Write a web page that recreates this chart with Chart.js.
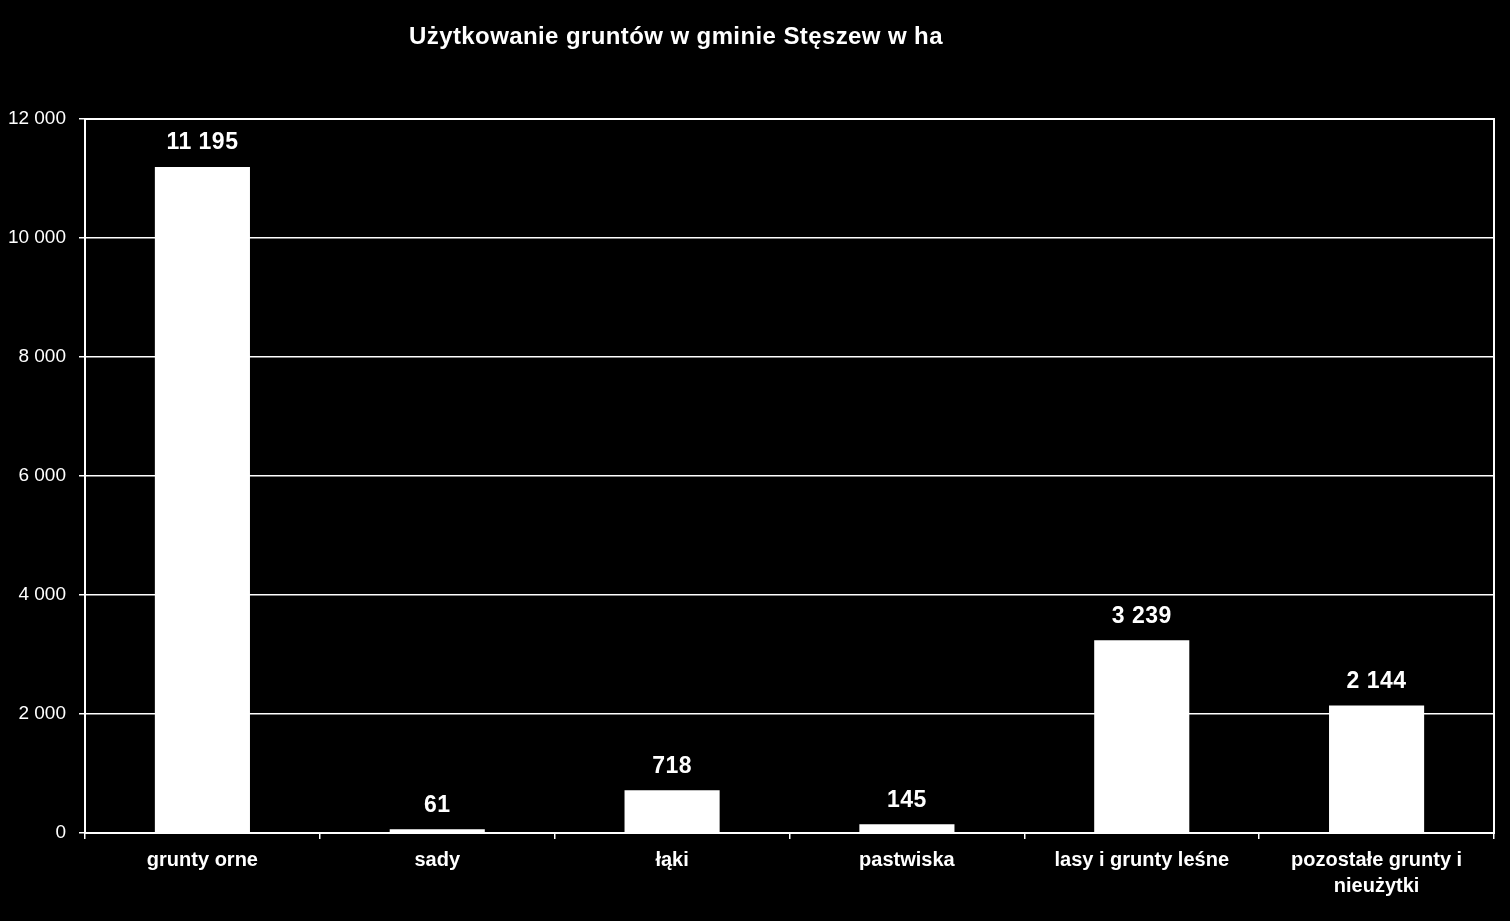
<!DOCTYPE html>
<html>
<head>
<meta charset="utf-8">
<script src="https://cdn.jsdelivr.net/npm/chart.js@4"></script>
<style>
  html, body { margin: 0; padding: 0; background: #000; }
  #wrap { width: 1510px; height: 921px; }
</style>
</head>
<body>
<div id="wrap"><canvas id="landUse"></canvas></div>
<script>
let categories = ['grunty orne', 'sady', 'łąki', 'pastwiska', 'lasy i grunty leśne', ['pozostałe grunty i', 'nieużytki']];
let areaHa = [11195, 61, 718, 145, 3239, 2144];
let yTicks = [0, 2000, 4000, 6000, 8000, 10000, 12000];
let chartTitle = 'Użytkowanie gruntów w gminie Stęszew w ha';

let fontFamily = '"Liberation Sans", Arial, sans-serif';

function spaced(n) {
    return String(n).replace(/\B(?=(\d{3})+(?!\d))/g, ' ');
}

// title sits left of centre in the original, so draw it by hand
let titlePlugin = {
    id: 'titleText',
    afterDraw(chart) {
        let c = chart.ctx;
        c.save();
        c.fillStyle = '#fff';
        c.font = 'bold 24px ' + fontFamily;
        c.letterSpacing = '0.4px';
        c.textAlign = 'center';
        c.textBaseline = 'middle';
        c.fillText(chartTitle, 676, 37);
        c.restore();
    }
};

let frame = {
    id: 'frame',
    afterDatasetsDraw(chart) {
        let a = chart.chartArea;
        let c = chart.ctx;
        c.save();
        c.strokeStyle = '#fff';
        c.lineWidth = 2;
        c.strokeRect(a.left, a.top, a.right - a.left, a.bottom - a.top);
        c.restore();
    }
};

let valueLabels = {
    id: 'valueLabels',
    afterDatasetsDraw(chart) {
        let c = chart.ctx;
        let meta = chart.getDatasetMeta(0);
        c.save();
        c.fillStyle = '#fff';
        c.font = 'bold 23px ' + fontFamily;
        c.letterSpacing = '0.5px';
        c.textAlign = 'center';
        c.textBaseline = 'middle';
        meta.data.forEach((bar, i) => {
            c.fillText(spaced(areaHa[i]), bar.x, bar.y - 24);
        });
        c.restore();
    }
};

let ctx = document.getElementById('landUse').getContext('2d');

let landChart = new Chart(ctx, {
    type: 'bar',
    data: {
        labels: categories,
        datasets: [{
            data: areaHa,
            backgroundColor: '#fff',
            borderWidth: 0,
            barPercentage: 0.405,
            categoryPercentage: 1
        }]
    },
    options: {
        responsive: true,
        maintainAspectRatio: false,
        animation: false,
        layout: { padding: { top: 119, right: 16, left: 0, bottom: 0 } },
        plugins: {
            legend: { display: false },
            title: { display: false },
            tooltip: { enabled: false }
        },
        scales: {
            x: {
                grid: {
                    drawOnChartArea: false,
                    drawTicks: true,
                    tickLength: 6,
                    color: '#fff',
                    lineWidth: 1.5
                },
                border: { color: '#fff', width: 2 },
                ticks: {
                    color: '#fff',
                    font: { family: fontFamily, size: 20, weight: 'bold', lineHeight: 1.3 },
                    padding: 8,
                    maxRotation: 0,
                    autoSkip: false
                },
                afterFit(scale) { scale.height = 88; }
            },
            y: {
                min: 0,
                max: 12000,
                afterBuildTicks(scale) {
                    scale.ticks = yTicks.map(v => ({ value: v }));
                },
                grid: {
                    color: '#fff',
                    lineWidth: 1.5,
                    tickLength: 6
                },
                border: { color: '#fff', width: 2 },
                ticks: {
                    color: '#fff',
                    font: { family: fontFamily, size: 19 },
                    padding: 13,
                    callback: v => spaced(v)
                },
                afterFit(scale) { scale.width = 85; }
            }
        }
    },
    plugins: [frame, valueLabels, titlePlugin]
});
</script>
</body>
</html>
